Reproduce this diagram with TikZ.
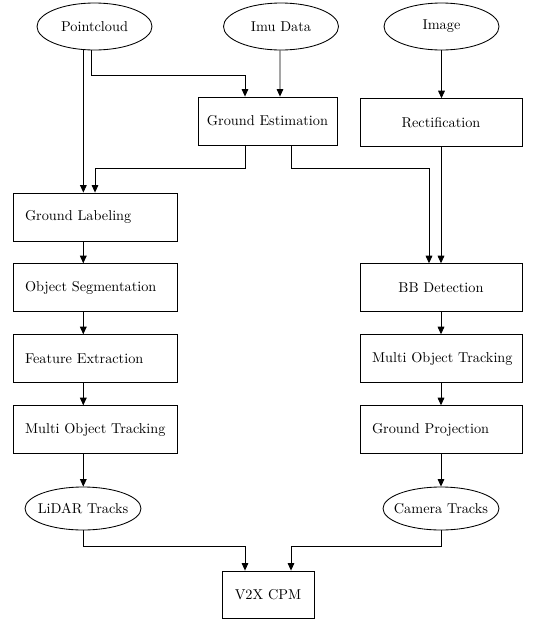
\documentclass[tikz,border=0pt]{standalone}
\usetikzlibrary{arrows.meta,shapes.geometric}
\begin{document}
\begin{tikzpicture}[x=0.7pt,y=-0.7pt,
  box/.style={draw, line width=0.6pt, rectangle, minimum height=33.3pt, inner sep=0pt},
  lbox/.style={box, minimum width=114.8pt},
  rbox/.style={box, minimum width=113.4pt},
  oval/.style={draw, ellipse, line width=0.6pt, minimum width=80.5pt, minimum height=32.9pt, inner sep=0pt},
  oval2/.style={oval, minimum width=81.2pt, minimum height=30.1pt},
  arr/.style={-{Triangle[length=5.3pt,width=4.7pt]}, line width=0.6pt}]
\useasboundingbox (0,0) rectangle (534,620);
% sources
\node[oval] (pc) at (94.5,26.5) {\makebox[0pt]{Pointcloud}};
\node[oval] (imu) at (281,26.5) {\makebox[0pt]{Imu Data}};
\node[oval] (img) at (441.5,26.5) {\makebox[0pt]{Image}};
% second row
\node[box, minimum width=97.3pt, minimum height=33.6pt] (ge) at (267.5,121) {Ground Estimation};
\node[rbox] (rect) at (441,122.5) {Rectification};
% left column
\node[lbox, minimum height=33.6pt] (gl) at (95,217) {\makebox[98pt][l]{Ground Labeling}};
\node[lbox] (os) at (95,287.5) {\makebox[98pt][l]{Object Segmentation}};
\node[lbox] (fe) at (95,358.5) {\makebox[98pt][l]{Feature Extraction}};
\node[lbox] (motl) at (95,429.5) {\makebox[98pt][l]{Multi Object Tracking}};
% right column
\node[rbox] (bb) at (441,287.5) {BB Detection};
\node[rbox] (motr) at (441,358.5) {\makebox[96.6pt][l]{Multi Object Tracking}};
\node[rbox] (gp) at (441,429.5) {\makebox[96.6pt][l]{Ground Projection}};
% tracks
\node[oval2] (lidar) at (83,508.5) {\makebox[0pt]{LiDAR Tracks}};
\node[oval2] (cam) at (441,508.5) {\makebox[0pt]{Camera Tracks}};
\node[box, minimum width=64.4pt, minimum height=32.9pt] (v2x) at (268,594.5) {V2X CPM};
% connectors
\draw[arr] ([xshift=-7.8pt]pc.south) -- ([xshift=-7.8pt]pc.south |- gl.north);
\draw[arr] ([xshift=-2.45pt]pc.south) -- ++(0,-17.5pt) -| ([xshift=-15.75pt]ge.north);
\draw[arr] ([xshift=-0.7pt]imu.south) -- ([xshift=8.75pt]ge.north);
\draw[arr] (img.south) -- (img.south |- rect.north);
\draw[arr] ([xshift=-15.75pt]ge.south) -- ++(0,-16.1pt) -| (gl.north);
\draw[arr] ([xshift=16.45pt]ge.south) -- ++(0,-16.1pt) -| ([xshift=-8.4pt]bb.north);
\draw[arr] (rect.south) -- (bb.north);
\draw[arr] ([xshift=-8.2pt]gl.south) -- ([xshift=-8.2pt]os.north);
\draw[arr] ([xshift=-8.2pt]os.south) -- ([xshift=-8.2pt]fe.north);
\draw[arr] ([xshift=-8.2pt]fe.south) -- ([xshift=-8.2pt]motl.north);
\draw[arr] ([xshift=-8.2pt]motl.south) -- ([xshift=-8.2pt]motl.south |- lidar.north);
\draw[arr] (bb.south) -- (motr.north);
\draw[arr] (motr.south) -- (gp.north);
\draw[arr] (gp.south) -- (cam.north);
\draw[arr] (lidar.south) -- ++(0,-11pt) -| ([xshift=-16.1pt]v2x.north);
\draw[arr] (cam.south) -- ++(0,-11pt) -| ([xshift=16.1pt]v2x.north);
\end{tikzpicture}
\end{document}
